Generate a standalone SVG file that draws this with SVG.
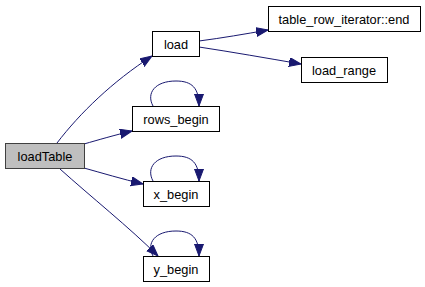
<svg xmlns="http://www.w3.org/2000/svg" width="425" height="287" viewBox="0 0 425 287">
  <style>
    .node rect { fill: #ffffff; stroke: #000000; stroke-width: 1; }
    .node.root rect { fill: #bfbfbf; stroke: #404040; }
    .node text { font-family: "Liberation Sans", Arial, sans-serif; font-size: 12.8px; fill: #000000; text-anchor: middle; }
    .edges path { fill: none; stroke: #191970; stroke-width: 1; }
  </style>
  <defs>
    <marker id="arrow" markerUnits="userSpaceOnUse" markerWidth="13" markerHeight="10" refX="12" refY="4.5" orient="auto">
      <path d="M0,0 L12,4.5 L0,9 Z" fill="#191970" stroke="#191970" stroke-width="1"/>
    </marker>
  </defs>
  <rect width="425" height="287" fill="#ffffff"/>

  <g class="edges">
    <path d="M57,143 C80,113 112,82 152,56" marker-end="url(#arrow)"/>
    <path d="M84,144 C98,140 115,135 132,131" marker-end="url(#arrow)"/>
    <path d="M84,168 C102,173 122,179 143,184" marker-end="url(#arrow)"/>
    <path d="M60,169 C90,196 130,228 158,256" marker-end="url(#arrow)"/>
    <path d="M153,106 C146,93 155,81 176,81 C192,81 199,88 199,106" marker-end="url(#arrow)"/>
    <path d="M153,181 C146,168 155,156 176,156 C192,156 199,163 199,181" marker-end="url(#arrow)"/>
    <path d="M153,256 C146,243 155,231 176,231 C192,231 199,238 199,256" marker-end="url(#arrow)"/>
    <path d="M199,41 C222,38 245,34 268,30" marker-end="url(#arrow)"/>
    <path d="M199,47 C232,52 266,58 301,64" marker-end="url(#arrow)"/>
  </g>

  <g id="loadTable" class="node root">
    <rect x="5.5" y="143.5" width="79" height="25"/>
    <text x="45" y="160.5">loadTable</text>
  </g>
  <g id="load" class="node">
    <rect x="152.5" y="31.5" width="47" height="25"/>
    <text x="176" y="48.5">load</text>
  </g>
  <g id="rows_begin" class="node">
    <rect x="132.5" y="106.5" width="87" height="25"/>
    <text x="176" y="123.5">rows_begin</text>
  </g>
  <g id="x_begin" class="node">
    <rect x="143.5" y="181.5" width="66" height="25"/>
    <text x="176" y="198.5">x_begin</text>
  </g>
  <g id="y_begin" class="node">
    <rect x="143.5" y="256.5" width="66" height="25"/>
    <text x="176" y="273.5">y_begin</text>
  </g>
  <g id="table_row_iterator_end" class="node">
    <rect x="268.5" y="6.5" width="152" height="25"/>
    <text x="344" y="23.5">table_row_iterator::end</text>
  </g>
  <g id="load_range" class="node">
    <rect x="301.5" y="57.5" width="86" height="25"/>
    <text x="344" y="74.5">load_range</text>
  </g>
</svg>
